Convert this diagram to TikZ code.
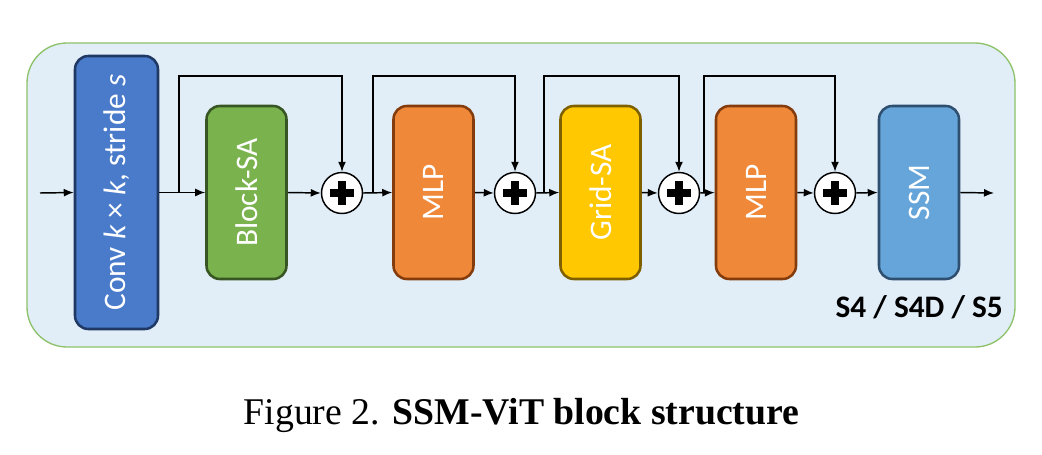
\documentclass[tikz,border=0pt]{standalone}
\usepackage{fontspec}
\setmainfont{Liberation Serif}
\newfontfamily\carlitofont{Carlito}
\usetikzlibrary{arrows.meta,calc}
\definecolor{bgfill}{HTML}{E1EEF8}
\definecolor{bgline}{HTML}{8DC26A}
\definecolor{convf}{HTML}{4A7BCB}
\definecolor{convl}{HTML}{1F3864}
\definecolor{bsaf}{HTML}{7AB24E}
\definecolor{bsal}{HTML}{375623}
\definecolor{mlpf}{HTML}{F0883A}
\definecolor{mlpl}{HTML}{843C0C}
\definecolor{gsaf}{HTML}{FFC800}
\definecolor{gsal}{HTML}{7F6000}
\definecolor{ssmf}{HTML}{66A5D9}
\definecolor{ssml}{HTML}{2E4F70}
\tikzset{
  blk/.style={draw, line width=1.9pt, rounded corners=10pt, minimum width={80*0.75pt}, minimum height={173*0.75pt}, inner sep=0pt, text=white, font=\carlitofont\fontsize{23.5}{26}\selectfont},
  addc/.style={draw, circle, line width=1.1pt, fill=white, minimum size={41*0.75pt}, inner sep=0pt},
  arr/.style={line width=1.1pt, -{Latex[length=7.5pt,width=6pt]}},
}
\begin{document}
\begin{tikzpicture}[x=0.75pt,y=-0.75pt]
\useasboundingbox (0,0) rectangle (1042,454);
\draw[fill=bgfill, draw=bgline, line width=1pt, rounded corners=30pt] (27,43) rectangle (1015,347);
% blocks
\node[blk, fill=convf, draw=convl, minimum width={83*0.75pt}, minimum height={273*0.75pt}] (conv) at (116.5,192.5) {\rotatebox{90}{Conv \textit{k} × \textit{k}, stride \textit{s}}};
\node[blk, fill=bsaf, draw=bsal] (bsa) at (246.5,192.5) {\rotatebox{90}{Block-SA}};
\node[blk, fill=mlpf, draw=mlpl] (mlp1) at (433.5,192.5) {\rotatebox{90}{MLP}};
\node[blk, fill=gsaf, draw=gsal] (gsa) at (600.5,192.5) {\rotatebox{90}{Grid-SA}};
\node[blk, fill=mlpf, draw=mlpl] (mlp2) at (756,192.5) {\rotatebox{90}{MLP}};
\node[blk, fill=ssmf, draw=ssml] (ssm) at (919,192.5) {\rotatebox{90}{SSM}};
% adders
\foreach \n/\x in {p1/342,p2/515,p3/679,p4/835}{
  \node[addc] (\n) at (\x,193) {};
  \draw[line width=6pt] ($(\n)+(-12,0)$) -- ($(\n)+(12,0)$);
  \draw[line width=6pt] ($(\n)+(0,-12)$) -- ($(\n)+(0,12)$);
}
% coordinates
\coordinate (in) at (40,193);
\coordinate (out) at (994,193);
\coordinate (b1) at (179,193);
\coordinate (b2) at (373,193);
\coordinate (b3) at (544,193);
\coordinate (b4) at (704,193);
\coordinate (top) at (0,76);
% main line
\draw[arr] (in) -- (conv.west);
\draw[arr] (conv.east) -- (bsa.west);
\draw[arr] (bsa.east) -- (p1.west);
\draw[arr] (p1.east) -- (mlp1.west);
\draw[arr] (mlp1.east) -- (p2.west);
\draw[arr] (p2.east) -- (gsa.west);
\draw[arr] (gsa.east) -- (p3.west);
\draw[arr] (p3.east) -- (mlp2.west);
\draw[arr] (mlp2.east) -- (p4.west);
\draw[arr] (p4.east) -- (ssm.west);
\draw[arr] (ssm.east) -- (out);
% skips
\draw[arr] (b1) -- (b1 |- top) -| (p1.north);
\draw[arr] (b2) -- (b2 |- top) -| (p2.north);
\draw[arr] (b3) -- (b3 |- top) -| (p3.north);
\draw[arr] (b4) -- (b4 |- top) -| (p4.north);
% label
\node[anchor=base east, inner sep=0pt, font=\carlitofont\bfseries\fontsize{23.5}{25}\selectfont] (lab) at (1003,317) {S4 / S4D / S5};
% caption
\node[anchor=base, inner sep=0pt, font=\fontsize{28.3}{30}\selectfont] (cap) at (521.5,424) {Figure 2. \textbf{SSM-ViT block structure}};
\end{tikzpicture}
\end{document}
